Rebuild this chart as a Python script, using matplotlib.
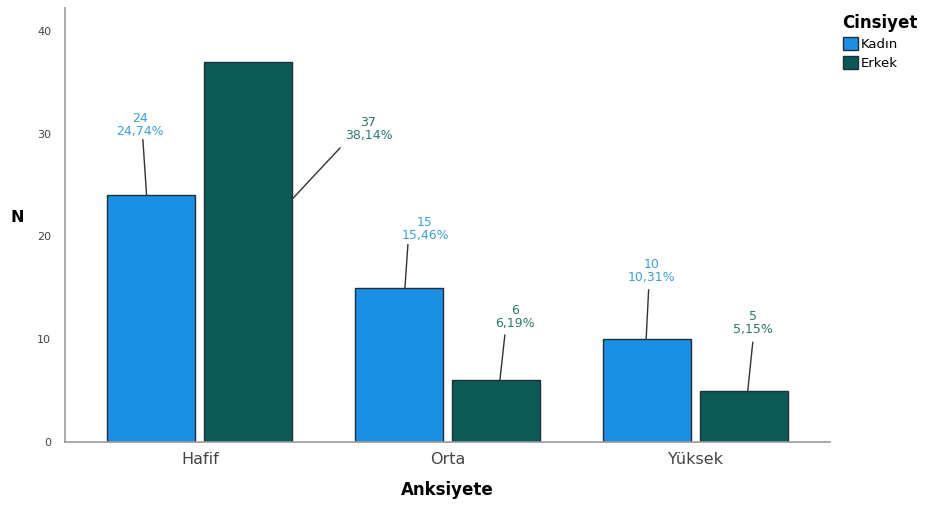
import numpy as np
import matplotlib.pyplot as plt
from matplotlib.patches import Patch

plt.rcParams['font.family'] = ['DejaVu Sans']

categories = ['Hafif', 'Orta', 'Yüksek']
kadin = [24, 15, 10]
erkek = [37, 6, 5]
kadin_pct = ['24,74%', '15,46%', '10,31%']
erkek_pct = ['38,14%', '6,19%', '5,15%']

# leader lines: start x on bar, end point (data coords)
kadin_start = [-0.215, 0.827, 1.80]
kadin_lines = [(-0.23, 29.4), (0.839, 19.2), (1.81, 14.8)]
erkek_start = [(0.375, 23.7), (1.21, 6), (2.21, 5)]
erkek_lines = [(0.565, 28.6), (1.23, 10.4), (2.23, 9.7)]
kadin_text = [(-0.24, 29.6), (0.908, 19.5), (1.823, 15.4)]
erkek_text = [(0.68, 29.2), (1.27, 10.9), (2.23, 10.3)]

c_k = '#1a8fe3'
c_e = '#0b5a57'
lab_k = '#3d9fe0'
lab_e = '#2a776e'

fig = plt.figure(figsize=(9.29, 5.07), dpi=100)
ax = fig.add_axes([0.070, 0.128, 0.823, 0.856])

x = np.arange(len(categories))
w = 0.355
off = 0.196
ax.bar(x - off, kadin, w, color=c_k, edgecolor='#1f2d3a', linewidth=1)
ax.bar(x + off, erkek, w, color=c_e, edgecolor='#1f2d3a', linewidth=1)

for i in range(len(categories)):
    ax.plot([kadin_start[i], kadin_lines[i][0]], [kadin[i], kadin_lines[i][1]],
            color='#333333', lw=1)
    ax.text(kadin_text[i][0], kadin_text[i][1], f'{kadin[i]}\n{kadin_pct[i]}',
            ha='center', va='bottom', color=lab_k, fontsize=9, linespacing=1.0)
    ax.plot([erkek_start[i][0], erkek_lines[i][0]], [erkek_start[i][1], erkek_lines[i][1]],
            color='#333333', lw=1)
    ax.text(erkek_text[i][0], erkek_text[i][1], f'{erkek[i]}\n{erkek_pct[i]}',
            ha='center', va='bottom', color=lab_e, fontsize=9, linespacing=1.0)

ax.set_xlim(-0.544, 2.54)
ax.set_ylim(0, 42.2)
ax.set_yticks([0, 10, 20, 30, 40])
ax.set_xticks(x)
ax.set_xticklabels(categories, fontsize=11.5, color='#444444')
ax.tick_params(axis='y', length=0, pad=10, labelsize=8, labelcolor='#444444')
ax.tick_params(axis='x', length=0, pad=7)
for s in ['top', 'right']:
    ax.spines[s].set_visible(False)
for s in ['left', 'bottom']:
    ax.spines[s].set_color('#999999')
    ax.spines[s].set_linewidth(1.2)

ax.set_xlabel('Anksiyete', fontsize=12, fontweight='bold', labelpad=10)
ax.set_ylabel('N', fontsize=11.5, fontweight='bold', rotation=0, labelpad=14)

handles = [Patch(facecolor=c_k, edgecolor='#1f2d3a', label='Kadın'),
           Patch(facecolor=c_e, edgecolor='#1f2d3a', label='Erkek')]
leg = fig.legend(handles=handles, title='Cinsiyet', loc='upper left',
                 bbox_to_anchor=(0.897, 0.99), frameon=False, fontsize=9.5,
                 handlelength=1.2, handleheight=1.2, handletextpad=0.2,
                 labelspacing=0.35, borderpad=0.2)
leg.get_title().set_fontweight('bold')
leg.get_title().set_fontsize(12)
leg._legend_box.align = 'left'

fig.savefig('out.png', dpi=100)
